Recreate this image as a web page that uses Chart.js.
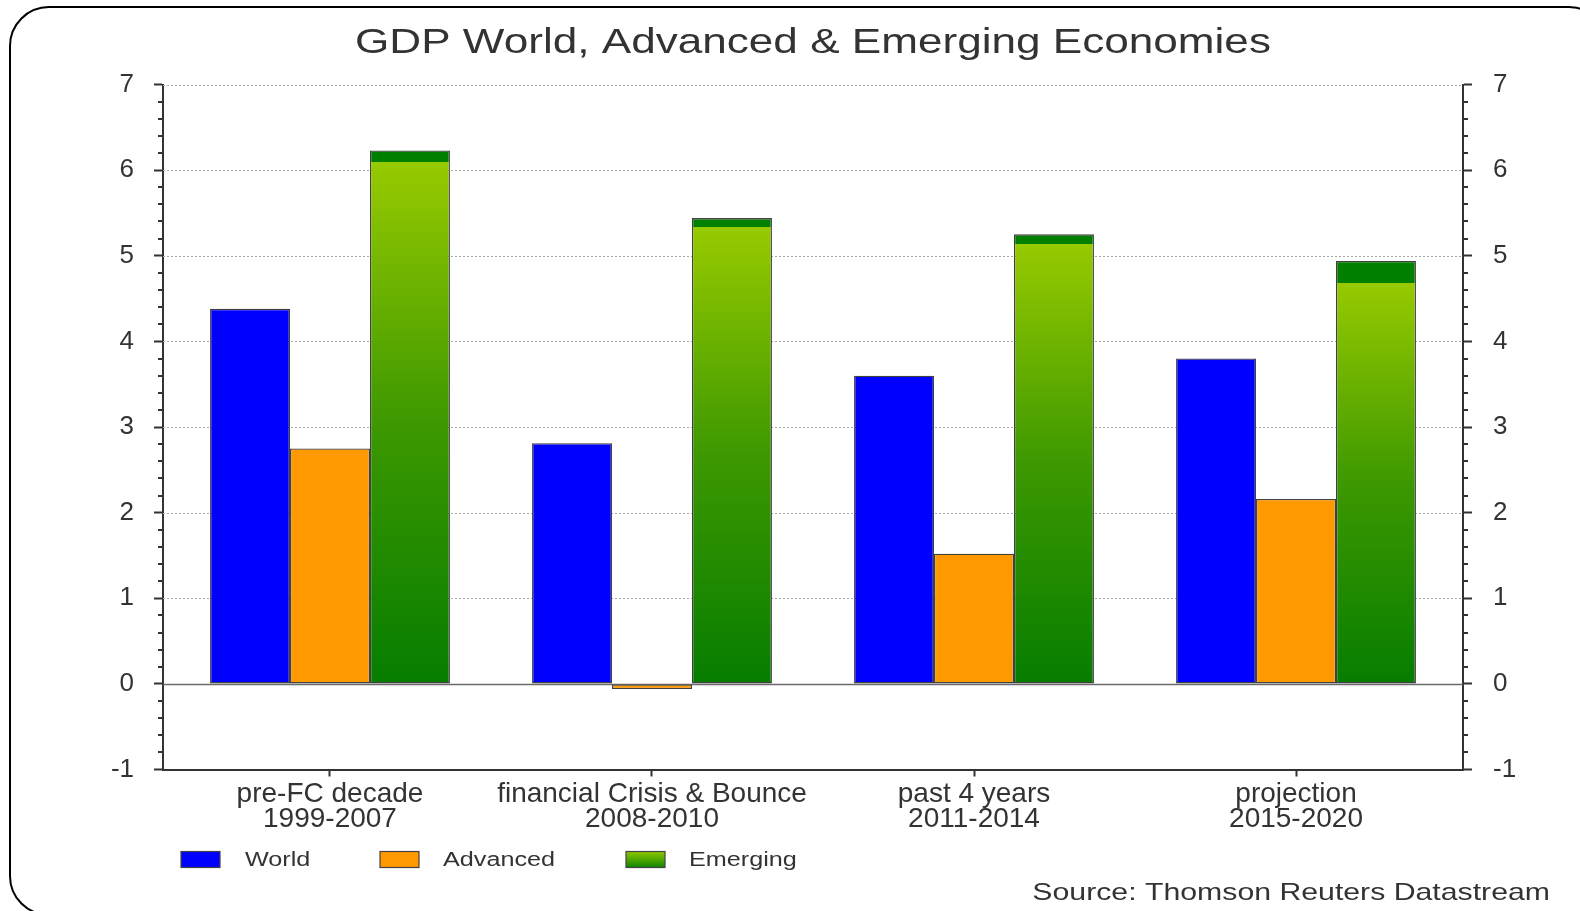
<!DOCTYPE html>
<html><head><meta charset="utf-8">
<script src="https://cdn.jsdelivr.net/npm/chart.js@4/dist/chart.umd.min.js"></script>
<style>
html,body{margin:0;padding:0;background:#fff;overflow:hidden}
#wrap{position:relative;width:1580px;height:911px}
#frame{position:absolute;left:9px;top:6px;width:1600px;height:910px;border:2px solid #000;border-radius:40px;box-sizing:border-box;pointer-events:none}
canvas{position:absolute;left:0;top:0}
</style></head>
<body><div id="wrap"><canvas id="c" width="1580" height="911"></canvas><div id="frame"></div></div>
<script>
// ---- data ----
const categories = [["pre-FC decade","1999-2007"],["financial Crisis & Bounce","2008-2010"],["past 4 years","2011-2014"],["projection","2015-2020"]];
const seriesNames = ["World","Advanced","Emerging"];
const world = [4.38, 2.81, 3.60, 3.80];
const advanced = [2.75, -0.06, 1.52, 2.16];
const emerging = [6.23, 5.44, 5.25, 4.94];
const emergingCapFrom = [6.09, 5.33, 5.14, 4.68];
const yTicks = [-1, 0, 1, 2, 3, 4, 5, 6, 7];
const titleText = "GDP World, Advanced & Emerging Economies";
const sourceText = "Source: Thomson Reuters Datastream";

// ---- styling ----
const FONT = '"Liberation Sans", Arial, Helvetica, sans-serif';
const TXT = '#333333';
const STRETCH = 1.26;
const X_PAD = 0.0186;
const AREA = {left:163, right:1463, top:84.5, bottom:769.5};

function emergingFill(c){
  const chart = c.chart;
  if (!chart.chartArea || c.type !== 'data') return '#4ea300';
  const y = chart.scales.y, i = c.dataIndex;
  const base = y.getPixelForValue(0), top = y.getPixelForValue(emerging[i]), cap = y.getPixelForValue(emergingCapFrom[i]);
  const g = chart.ctx.createLinearGradient(0, base, 0, top);
  const f = (base - cap) / (base - top);
  g.addColorStop(0, '#067d00');
  g.addColorStop(f * 0.5, '#3d9800');
  g.addColorStop(f, '#97ca00');
  g.addColorStop(f, '#008000');
  g.addColorStop(1, '#008000');
  return g;
}

function sText(ctx, str, x, y, size, align){
  ctx.save();
  ctx.font = size + 'px ' + FONT;
  ctx.fillStyle = TXT;
  ctx.textBaseline = 'alphabetic';
  ctx.textAlign = align;
  ctx.translate(x, y);
  ctx.scale(STRETCH, 1);
  ctx.fillText(str, 0, 0);
  ctx.restore();
}

const decor = {
  id: 'decor',
  beforeDatasetsDraw(chart){
    const {ctx, chartArea:a} = chart;
    const y = chart.scales.y;
    ctx.save();
    y.ticks.forEach(t => {
      if (t.value === y.min) return;
      const py = Math.round(y.getPixelForValue(t.value)) + 0.5;
      ctx.beginPath();
      if (t.value === 0){ ctx.setLineDash([]); ctx.strokeStyle = '#6a6a6a'; ctx.lineWidth = 1.5; }
      else { ctx.setLineDash([2,2]); ctx.strokeStyle = '#a8a8a8'; ctx.lineWidth = 1; }
      ctx.moveTo(a.left, py); ctx.lineTo(a.right, py); ctx.stroke();
    });
    ctx.restore();
  },
  afterDraw(chart){
    const {ctx, chartArea:a} = chart;
    const y = chart.scales.y;
    ctx.save();
    // minor ticks
    ctx.strokeStyle = '#333'; ctx.lineWidth = 2; ctx.setLineDash([]);
    for (let k = 0; k < y.ticks.length - 1; k++){
      const v0 = y.ticks[k].value, v1 = y.ticks[k+1].value;
      for (let m = 1; m < 5; m++){
        const py = Math.round(y.getPixelForValue(v0 + (v1 - v0) * m / 5));
        ctx.beginPath(); ctx.moveTo(a.left - 5, py); ctx.lineTo(a.left, py); ctx.stroke();
        ctx.beginPath(); ctx.moveTo(a.right, py); ctx.lineTo(a.right + 5, py); ctx.stroke();
      }
    }
    ctx.restore();
    // title & source
    sText(ctx, titleText, 813, 53, 35, 'center');
    sText(ctx, sourceText, 1550, 899.5, 24, 'right');
    // legend
    const boxes = [181, 380, 626], texts = [245, 443, 689];
    chart.data.datasets.forEach((ds, i) => {
      const bx = boxes[i], by = 851.5, bw = 39, bh = 16;
      let fill = ds.backgroundColor;
      if (typeof fill === 'function'){
        const g = ctx.createLinearGradient(0, by, 0, by + bh);
        g.addColorStop(0, '#8fc800'); g.addColorStop(1, '#108500');
        fill = g;
      }
      ctx.save();
      ctx.fillStyle = fill; ctx.fillRect(bx, by, bw, bh);
      ctx.strokeStyle = '#444'; ctx.lineWidth = 1.2; ctx.strokeRect(bx, by, bw, bh);
      ctx.restore();
      sText(ctx, ds.label, texts[i], 866, 20, 'left');
    });
  }
};

const toPts = arr => arr.map((v, i) => ({x: i, y: v}));
const yCommon = {
  min: -1, max: 7,
  afterBuildTicks(s){ s.ticks = yTicks.map(v => ({value: v})); },
  grid: {drawOnChartArea: false, drawTicks: true, tickLength: 9, tickColor: '#333', tickWidth: 2},
  border: {display: true, color: '#333', width: 2}
};

new Chart(document.getElementById('c'), {
  type: 'bar',
  data: {
    datasets: [
      {label: seriesNames[0], data: toPts(world), backgroundColor: '#0000ff'},
      {label: seriesNames[1], data: toPts(advanced), backgroundColor: '#ff9900'},
      {label: seriesNames[2], data: toPts(emerging), backgroundColor: emergingFill}
    ]
  },
  options: {
    responsive: false, animation: false, devicePixelRatio: 1,
    layout: {padding: {top: AREA.top, left: 0, right: 0, bottom: 0}},
    datasets: {bar: {borderColor: '#404040', borderWidth: 1.3, borderSkipped: false, categoryPercentage: 0.745, barPercentage: 1}},
    plugins: {legend: {display: false}, title: {display: false}, tooltip: {enabled: false}},
    scales: {
      x: {
        type: 'linear', offset: false, min: -0.5 - X_PAD, max: categories.length - 0.5 + X_PAD,
        afterBuildTicks(s){ s.ticks = categories.map((c, i) => ({value: i})); },
        afterFit(s){ s.height = 911 - AREA.bottom; },
        ticks: {autoSkip: false, maxRotation: 0, minRotation: 0, callback: v => categories[v],
                font: {family: FONT, size: 28, lineHeight: 0.865}, color: TXT, padding: 6},
        grid: {offset: false, drawOnChartArea: false, drawTicks: true, tickLength: 7, tickColor: '#333', tickWidth: 2},
        border: {display: true, color: '#333', width: 2}
      },
      y: Object.assign({}, yCommon, {
        position: 'left',
        afterFit(s){ s.width = AREA.left; },
        ticks: {font: {family: FONT, size: 26}, color: TXT, padding: 20}
      }),
      y2: Object.assign({}, yCommon, {
        position: 'right',
        afterFit(s){ s.width = 1580 - AREA.right; },
        ticks: {font: {family: FONT, size: 26}, color: TXT, padding: 21}
      })
    }
  },
  plugins: [decor]
});
</script>
</body></html>
